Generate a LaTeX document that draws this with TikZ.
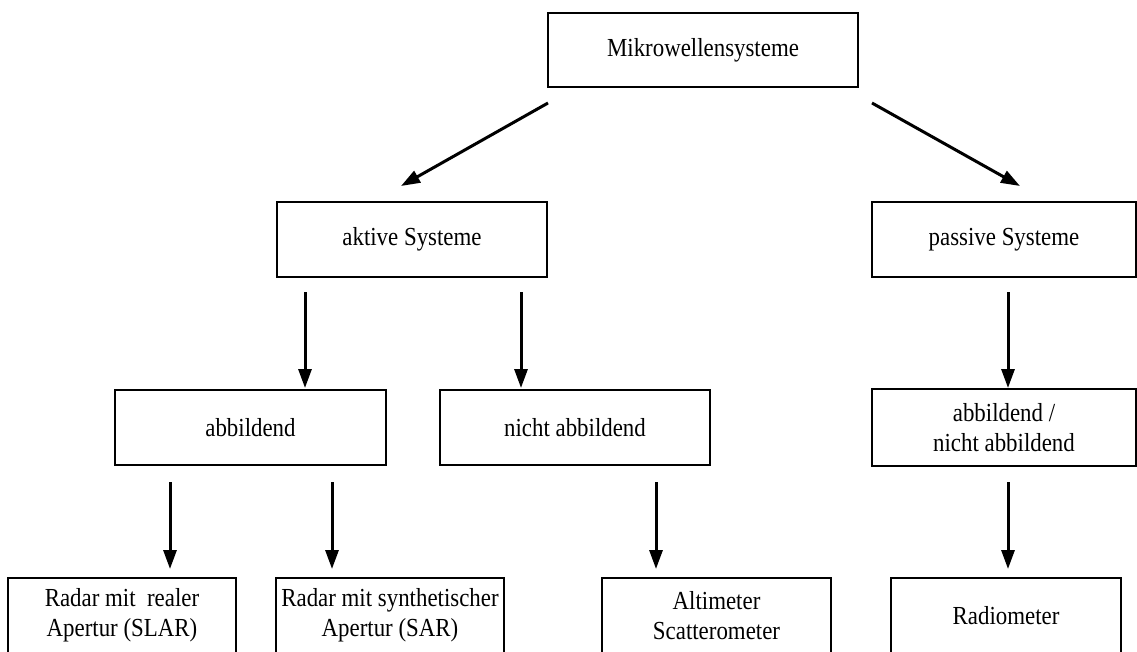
\documentclass[tikz,border=0pt]{standalone}
\usepackage{fontspec}
\setmainfont[FakeStretch=0.88]{Liberation Serif}
\usetikzlibrary{arrows.meta}
\begin{document}
\begin{tikzpicture}[x=1pt,y=-1pt,
  box/.style={draw=black,line width=2pt,inner sep=0pt,align=center,
    font=\fontsize{26}{30}\selectfont},
  arr/.style={line width=3pt,-{Triangle[length=19pt,width=13pt]}}]
\useasboundingbox (0,0) rectangle (1137,651);
\clip (0,0) rectangle (1137,651);
% boxes
\node[box,minimum width=310pt,minimum height=74pt] (mw) at (703,50) {Mikrowellensysteme};
\node[box,minimum width=270pt,minimum height=75pt] (akt) at (412,239.5) {aktive Systeme};
\node[box,minimum width=264pt,minimum height=75pt] (pas) at (1004,239.5) {passive Systeme};
\node[box,minimum width=271pt,minimum height=75pt] (abb) at (250.5,427.5) {abbildend};
\node[box,minimum width=270pt,minimum height=75pt] (nab) at (575,427.5) {nicht abbildend};
\node[box,minimum width=264pt,minimum height=77pt] (pab) at (1004,427.5) {abbildend /\\nicht abbildend};
\node[box,minimum width=228pt,minimum height=75pt] (slar) at (122,615.5) {Radar mit\ \ realer\\Apertur (SLAR)};
\node[box,minimum width=228pt,minimum height=75pt] (sar) at (390,615.5) {Radar mit synthetischer\\Apertur (SAR)};
\node[box,minimum width=229pt,minimum height=75pt] (alt) at (716.5,615.5) {Altimeter\\Scatterometer};
\node[box,minimum width=230pt,minimum height=75pt] (rad) at (1006,615.5) {Radiometer};
% arrow end points
\coordinate (a1s) at (548,103);  \coordinate (a1e) at (401,186);
\coordinate (a2s) at (872,103);  \coordinate (a2e) at (1020,186);
\coordinate (a3s) at (305,292);  \coordinate (a3e) at (305,388);
\coordinate (a4s) at (521,292);  \coordinate (a4e) at (521,388);
\coordinate (a5s) at (1008,292); \coordinate (a5e) at (1008,388);
\coordinate (b1s) at (170,482);  \coordinate (b1e) at (170,569);
\coordinate (b2s) at (332,482);  \coordinate (b2e) at (332,569);
\coordinate (b3s) at (656,482);  \coordinate (b3e) at (656,569);
\coordinate (b4s) at (1008,482); \coordinate (b4e) at (1008,569);
\foreach \s/\e in {a1s/a1e,a2s/a2e,a3s/a3e,a4s/a4e,a5s/a5e,b1s/b1e,b2s/b2e,b3s/b3e,b4s/b4e}
  \draw[arr] (\s) -- (\e);
\end{tikzpicture}
\end{document}
